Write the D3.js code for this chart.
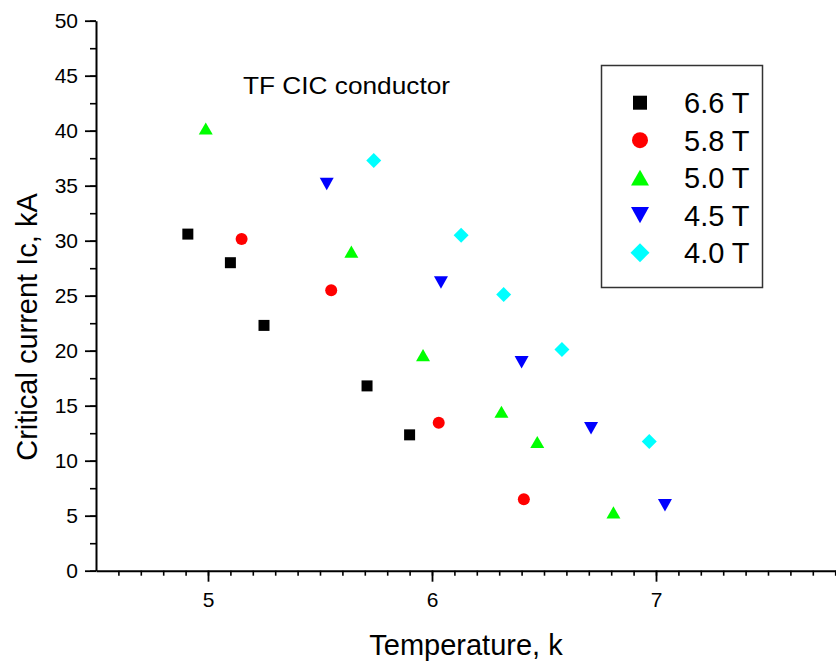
<!DOCTYPE html>
<html>
<head>
<meta charset="utf-8">
<script src="https://cdn.jsdelivr.net/npm/d3@7"></script>
<style>
  body { margin: 0; background: #fff; }
  svg { display: block; font-family: "Liberation Sans", Arial, sans-serif; }
</style>
</head>
<body>
<div id="chart"></div>
<script>
// data
var seriesNames = ["6.6 T", "5.8 T", "5.0 T", "4.5 T", "4.0 T"];
var temps66 = [4.91, 5.10, 5.25, 5.71, 5.90];
var ic66    = [30.6, 28.0, 22.3, 16.8, 12.35];
var temps58 = [5.15, 5.55, 6.03, 6.41];
var ic58    = [30.15, 25.5, 13.45, 6.5];
var temps50 = [4.99, 5.64, 5.96, 6.31, 6.47, 6.81];
var ic50    = [40.2, 29.0, 19.6, 14.45, 11.7, 5.3];
var temps45 = [5.53, 6.04, 6.40, 6.71, 7.04];
var ic45    = [35.15, 26.2, 18.95, 12.95, 5.95];
var temps40 = [5.74, 6.13, 6.32, 6.58, 6.97];
var ic40    = [37.3, 30.5, 25.1, 20.1, 11.75];
var xTicks = [5, 6, 7];
var yTicks = [0, 5, 10, 15, 20, 25, 30, 35, 40, 45, 50];

var width = 836, height = 663;

var svg = d3.select("#chart").append("svg")
    .attr("width", width)
    .attr("height", height);

var x = d3.scaleLinear().domain([4.5, 8]).range([96, 880]);
var y = d3.scaleLinear().domain([0, 50]).range([570.7, 20.7]);

// custom marker shapes, "size" is the half width
var square = { draw: function(c, r) { c.rect(-r, -r, 2 * r, 2 * r); } };
var circle = { draw: function(c, r) { c.moveTo(r, 0); c.arc(0, 0, r, 0, 2 * Math.PI); } };
var triUp = { draw: function(c, r) {
  var h = r * 0.87; c.moveTo(0, -h); c.lineTo(r, h); c.lineTo(-r, h); c.closePath(); } };
var triDown = { draw: function(c, r) {
  var h = r * 0.9; c.moveTo(0, h); c.lineTo(r, -h); c.lineTo(-r, -h); c.closePath(); } };
var diamond = { draw: function(c, r) {
  c.moveTo(0, -r); c.lineTo(r, 0); c.lineTo(0, r); c.lineTo(-r, 0); c.closePath(); } };

var series = [
  { name: seriesNames[0], t: temps66, ic: ic66, color: "#000000", shape: square,  r: 5.5, lr: 7 },
  { name: seriesNames[1], t: temps58, ic: ic58, color: "#ff0000", shape: circle,  r: 6,   lr: 8 },
  { name: seriesNames[2], t: temps50, ic: ic50, color: "#00ff00", shape: triUp,   r: 7,   lr: 9 },
  { name: seriesNames[3], t: temps45, ic: ic45, color: "#0000ff", shape: triDown, r: 7,   lr: 9 },
  { name: seriesNames[4], t: temps40, ic: ic40, color: "#00ffff", shape: diamond, r: 7.5, lr: 9.5 }
];

// axes
var xMinor = d3.range(46, 80).map(function(d) { return d / 10; });
var yMinor = d3.range(0, 21).map(function(d) { return d * 2.5; });

svg.append("g")
    .attr("transform", "translate(0," + y(0) + ")")
    .call(d3.axisBottom(x).tickValues(xMinor).tickSize(5).tickFormat(""))
    .call(function(g) { g.select(".domain").remove(); })
    .selectAll("line").attr("stroke-width", 1.6);

svg.append("g")
    .attr("transform", "translate(0," + y(0) + ")")
    .call(d3.axisBottom(x).tickValues(xTicks).tickSize(11).tickPadding(10).tickSizeOuter(0).tickFormat(d3.format("d")))
    .call(function(g) {
      g.select(".domain").attr("stroke-width", 2);
      g.selectAll("line").attr("stroke-width", 1.8);
      g.selectAll("text").attr("font-size", 21).attr("fill", "#000");
    });

svg.append("g")
    .attr("transform", "translate(" + x(4.5) + ",0)")
    .call(d3.axisLeft(y).tickValues(yMinor).tickSize(6).tickFormat(""))
    .call(function(g) { g.select(".domain").remove(); })
    .selectAll("line").attr("stroke-width", 1.6);

svg.append("g")
    .attr("transform", "translate(" + x(4.5) + ",0)")
    .call(d3.axisLeft(y).tickValues(yTicks).tickSize(11).tickPadding(7).tickSizeOuter(0))
    .call(function(g) {
      g.select(".domain").attr("stroke-width", 2);
      g.selectAll("line").attr("stroke-width", 1.8);
      g.selectAll("text").attr("font-size", 21).attr("fill", "#000");
    });

// axis titles
svg.append("text")
    .attr("x", 466).attr("y", 655)
    .attr("text-anchor", "middle")
    .attr("font-size", 29)
    .text("Temperature, k");

svg.append("text")
    .attr("transform", "translate(37,327) rotate(-90)")
    .attr("text-anchor", "middle")
    .attr("font-size", 29)
    .text("Critical current Ic, kA");

svg.append("text")
    .attr("x", 243).attr("y", 94)
    .attr("font-size", 24)
    .attr("textLength", 207)
    .attr("lengthAdjust", "spacingAndGlyphs")
    .text("TF CIC conductor");

// points
series.forEach(function(s) {
  svg.append("g").selectAll("path")
    .data(s.t.map(function(t, i) { return [t, s.ic[i]]; }))
    .enter()
    .append("path")
      .attr("transform", function(d) { return "translate(" + x(d[0]) + "," + y(d[1]) + ")"; })
      .attr("d", d3.symbol().type(s.shape).size(s.r))
      .attr("fill", s.color);
});

// legend
var legend = svg.append("g");
legend.append("rect")
    .attr("x", 601.5).attr("y", 65.5)
    .attr("width", 161).attr("height", 222)
    .attr("fill", "none")
    .attr("stroke", "#333")
    .attr("stroke-width", 1.5);

var rows = legend.selectAll("g.row")
  .data(series)
  .enter()
  .append("g")
    .attr("transform", function(d, i) { return "translate(0," + (102.7 + i * 37.5) + ")"; });

rows.append("path")
    .attr("transform", "translate(640,0)")
    .attr("d", function(d) { return d3.symbol().type(d.shape).size(d.lr)(); })
    .attr("fill", function(d) { return d.color; });

rows.append("text")
    .attr("x", 684).attr("dy", "0.36em")
    .attr("font-size", 29)
    .text(function(d) { return d.name; });
</script>
</body>
</html>
